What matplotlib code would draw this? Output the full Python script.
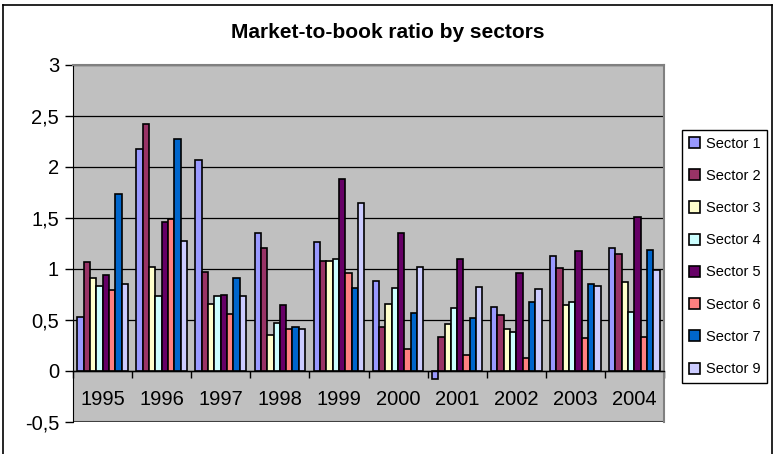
import numpy as np
import matplotlib.pyplot as plt
from matplotlib.lines import Line2D
from matplotlib.ticker import FuncFormatter

plt.rcParams['font.family'] = ['Liberation Sans', 'DejaVu Sans']

years = ['1995', '1996', '1997', '1998', '1999', '2000', '2001', '2002', '2003', '2004']
sectors = ['Sector 1', 'Sector 2', 'Sector 3', 'Sector 4', 'Sector 5', 'Sector 6', 'Sector 7', 'Sector 9']
colors = ['#9999FF', '#993366', '#FFFFCC', '#CCFFFF', '#660066', '#FF8080', '#0066CC', '#CCCCFF']

sector1 = [0.53, 2.18, 2.07, 1.35, 1.26, 0.88, -0.08, 0.63, 1.13, 1.21]
sector2 = [1.07, 2.42, 0.97, 1.21, 1.08, 0.43, 0.33, 0.55, 1.01, 1.15]
sector3 = [0.91, 1.02, 0.66, 0.35, 1.08, 0.66, 0.46, 0.41, 0.65, 0.87]
sector4 = [0.83, 0.74, 0.74, 0.47, 1.10, 0.81, 0.62, 0.38, 0.68, 0.58]
sector5 = [0.94, 1.46, 0.75, 0.65, 1.88, 1.35, 1.10, 0.96, 1.18, 1.51]
sector6 = [0.79, 1.49, 0.56, 0.41, 0.96, 0.22, 0.16, 0.13, 0.32, 0.33]
sector7 = [1.74, 2.27, 0.91, 0.43, 0.81, 0.57, 0.52, 0.68, 0.85, 1.19]
sector9 = [0.85, 1.27, 0.74, 0.41, 1.65, 1.02, 0.82, 0.80, 0.83, 0.99]
series = [sector1, sector2, sector3, sector4, sector5, sector6, sector7, sector9]

W, H = 773, 454
fig = plt.figure(figsize=(W / 100, H / 100), dpi=100)
ax = fig.add_axes([73 / W, 1 - 422 / H, (664 - 73) / W, (422 - 65) / H])
ax.set_facecolor('#C0C0C0')

x = np.arange(len(years)) + 0.5
bw = 0.107
for i, (vals, c) in enumerate(zip(series, colors)):
    ax.bar(x + (i - 3.5) * bw, vals, width=bw, color=c, edgecolor='black',
           linewidth=1.2, label=sectors[i], zorder=3)

ax.set_xlim(0, len(years))
ax.set_ylim(-0.5, 3)
ax.set_yticks(np.arange(-0.5, 3.01, 0.5))
ax.yaxis.set_major_formatter(FuncFormatter(lambda v, p: ('%g' % v).replace('.', ',')))
ax.yaxis.grid(True, color='black', linewidth=0.9)
ax.set_axisbelow(True)
ax.tick_params(axis='y', direction='out', length=6, width=1, labelsize=14.5, pad=4)

# category axis sits on the zero line
ax.spines['bottom'].set_position(('data', 0))
ax.spines['bottom'].set_linewidth(1.0)
ax.spines['bottom'].set_zorder(4)
ax.set_xticks(np.arange(0, len(years) + 1))
ax.set_xticklabels([])
ax.set_xticks(x, minor=True)
ax.set_xticklabels(years, minor=True)
ax.tick_params(axis='x', which='major', direction='out', length=5, width=1)
ax.tick_params(axis='x', which='minor', length=0, labelsize=14.5, pad=14)
for s in ['top', 'right']:
    ax.spines[s].set_color('#808080')
    ax.spines[s].set_linewidth(1.5)
ax.axhline(-0.5, color='#404040', linewidth=1.5, zorder=2)

fig.text(388 / W, 1 - 33 / H, 'Market-to-book ratio by sectors', ha='center', va='center',
         fontsize=15, fontweight='bold')

fig.legend(loc='upper left', bbox_to_anchor=(682 / W, 1 - 130 / H), frameon=True,
           fancybox=False, edgecolor='black', framealpha=1, fontsize=10.5,
           handlelength=0.8, handleheight=0.8, handletextpad=0.4,
           labelspacing=1.25, borderpad=0.45, borderaxespad=0)

# chart frame
for xs, ys in [((3, 772), (5, 5)), ((3, 3), (5, 454)), ((772, 772), (5, 454))]:
    fig.add_artist(Line2D([v / W for v in xs], [1 - v / H for v in ys], color='black', linewidth=1.2))

fig.savefig('out.png', dpi=100)
